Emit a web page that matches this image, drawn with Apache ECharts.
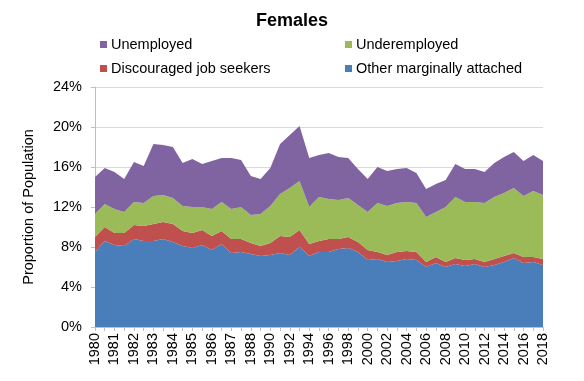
<!DOCTYPE html>
<html>
<head>
<meta charset="utf-8">
<script src="https://cdn.jsdelivr.net/npm/echarts@6/dist/echarts.min.js"></script>
<style>html,body{margin:0;padding:0;background:#fff}#c{width:584px;height:381px}</style>
</head>
<body>
<div id="c"></div>
<script>
// Categories: half-yearly to 1988, then yearly (labels shown every other category)
const categories = [
  "1980","1980-H2","1981","1981-H2","1982","1982-H2","1983","1983-H2","1984","1984-H2",
  "1985","1985-H2","1986","1986-H2","1987","1987-H2","1988",
  "1989","1990","1991","1992","1993","1994","1995","1996","1997","1998","1999","2000",
  "2001","2002","2003","2004","2005","2006","2007","2008","2009","2010","2011","2012",
  "2013","2014","2015","2016","2017","2018"
];
const otherMarginal = [7.5,8.6,8.2,8.1,8.8,8.6,8.6,8.8,8.5,8.1,7.9,8.2,7.7,8.3,7.4,7.5,7.3,
  7.1,7.2,7.4,7.2,8.0,7.1,7.5,7.5,7.8,7.9,7.5,6.7,6.8,6.5,6.6,6.8,6.7,6.0,6.4,6.0,6.3,6.1,6.3,6.0,6.2,6.5,6.9,6.4,6.5,6.2];
const discouraged = [1.5,1.4,1.2,1.3,1.4,1.5,1.7,1.7,1.8,1.5,1.5,1.5,1.4,1.3,1.4,1.3,1.1,
  1.0,1.2,1.7,1.8,1.7,1.2,1.1,1.3,1.0,1.1,1.0,1.0,0.7,0.7,0.9,0.8,0.8,0.5,0.6,0.5,0.6,0.6,0.5,0.5,0.6,0.6,0.5,0.6,0.5,0.6];
const underemployed = [2.3,2.3,2.4,2.1,2.3,2.3,2.8,2.7,2.6,2.5,2.6,2.3,2.7,2.9,3.0,3.2,2.8,
  3.2,3.7,4.2,4.9,4.9,3.7,4.4,4.0,3.9,3.9,3.7,3.8,4.9,4.9,4.9,4.9,4.9,4.5,4.5,5.5,6.1,5.8,5.7,5.9,6.2,6.3,6.5,6.1,6.6,6.4];
const unemployed = [3.7,3.6,3.7,3.3,4.0,3.7,5.2,5.0,5.1,4.3,4.8,4.3,4.8,4.4,5.1,4.7,3.9,
  3.5,3.8,5.0,5.3,5.5,4.9,4.2,4.6,4.3,4.0,3.6,3.3,3.6,3.5,3.4,3.4,3.0,2.8,2.8,2.7,3.3,3.3,3.3,3.1,3.4,3.6,3.6,3.5,3.6,3.4];
const yTicks = [0,4,8,12,16,20,24];

const colors = {
  "Other marginally attached": "#4A7EBB",
  "Discouraged job seekers": "#C0504D",
  "Underemployed": "#9BBB59",
  "Unemployed": "#8064A2"
};
const font = "'Liberation Sans', Arial, sans-serif";
const fs = 14.5;
const chart = echarts.init(document.getElementById('c'), null, {renderer: 'canvas'});

function areaSeries(name, data) {
  return {
    name: name, type: 'line', stack: 'total', data: data,
    symbol: 'none', smooth: false,
    lineStyle: {width: 0}, areaStyle: {color: colors[name], opacity: 1},
    itemStyle: {color: colors[name]}, emphasis: {disabled: true}
  };
}
function legendAt(name, left, top) {
  return {
    data: [name], left: left, top: top, icon: 'rect', itemWidth: 7, itemHeight: 7, itemGap: 0,
    textStyle: {fontFamily: font, fontSize: fs, color: '#000', padding: [0,0,0,-1]},
    padding: 0, selectedMode: false
  };
}

chart.setOption({
  animation: false,
  color: Object.values(colors),
  title: {
    text: 'Females', left: 'center', top: 7,
    textStyle: {fontFamily: font, fontSize: 18, fontWeight: 'bold', color: '#000'}
  },
  legend: [
    legendAt('Unemployed', 100, 37),
    legendAt('Underemployed', 345, 37),
    legendAt('Discouraged job seekers', 100, 61),
    legendAt('Other marginally attached', 345, 61)
  ],
  grid: {left: 95, right: 41, top: 87, bottom: 54, containLabel: false},
  xAxis: {
    type: 'category', data: categories, boundaryGap: false,
    axisLine: {lineStyle: {color: '#BFBFBF', width: 1}},
    axisTick: {show: true, interval: 0, length: 4, lineStyle: {color: '#BFBFBF'}},
    axisLabel: {interval: 1, rotate: 90, margin: 6, fontFamily: font, fontSize: fs, color: '#000'},
    splitLine: {show: false}
  },
  yAxis: {
    type: 'value', min: yTicks[0], max: yTicks[yTicks.length-1], interval: 4,
    name: 'Proportion of Population', nameLocation: 'middle', nameGap: 59,
    nameTextStyle: {fontFamily: font, fontSize: fs, color: '#000'},
    axisLine: {show: true, lineStyle: {color: '#BFBFBF'}},
    axisTick: {show: true, length: 4, lineStyle: {color: '#BFBFBF'}},
    axisLabel: {fontFamily: font, fontSize: fs, color: '#000', margin: 13, formatter: v => v + '%'},
    splitLine: {lineStyle: {color: '#D9D9D9', width: 1}}
  },
  series: [
    areaSeries('Other marginally attached', otherMarginal),
    areaSeries('Discouraged job seekers', discouraged),
    areaSeries('Underemployed', underemployed),
    areaSeries('Unemployed', unemployed)
  ]
});
</script>
</body>
</html>
